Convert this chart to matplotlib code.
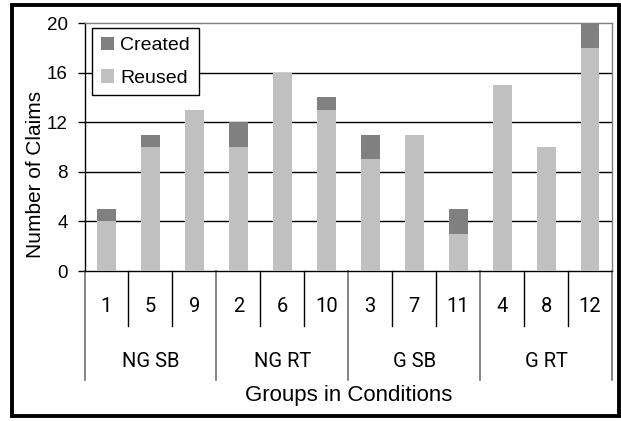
import matplotlib
matplotlib.use("Agg")
import matplotlib.pyplot as plt
from matplotlib.patches import Rectangle
from matplotlib.lines import Line2D
import numpy as np

# группы по условиям и номера групп
groups = ["1", "5", "9", "2", "6", "10", "3", "7", "11", "4", "8", "12"]
conditions = ["NG SB", "NG RT", "G SB", "G RT"]
reused = [4, 10, 13, 10, 16, 13, 9, 11, 3, 15, 10, 18]
created = [1, 1, 0, 2, 0, 1, 2, 0, 2, 0, 0, 2]

plt.rcParams["font.family"] = ["Liberation Sans", "DejaVu Sans"]
narrow = ["Roboto", "DejaVu Sans"]

fig = plt.figure(figsize=(6.21, 4.21), dpi=100)
ax = fig.add_axes([84.5 / 621, 150 / 421, 527.5 / 621, 248 / 421])

x = np.arange(len(groups))
ax.bar(x, reused, width=0.43, color="#c0c0c0", label="Reused", zorder=3)
ax.bar(x, created, width=0.43, bottom=reused, color="#808080", label="Created", zorder=3)

ax.set_xlim(-0.5, len(groups) - 0.5)
ax.set_ylim(0, 20)
ax.set_yticks([0, 4, 8, 12, 16, 20])
ax.tick_params(axis="y", labelsize=13.5, length=5, pad=7.2, width=1)
ax.set_xticks([])
for v in [4, 8, 12, 16]:
    ax.axhline(v, color="black", lw=1, zorder=1)

ax.spines["left"].set_color("black")
ax.spines["bottom"].set_color("black")
ax.spines["top"].set_color("#808080")
ax.spines["right"].set_color("#808080")
for s in ax.spines.values():
    s.set_linewidth(1)

ax.set_ylabel("Number of Claims", fontsize=15)
ax.yaxis.label.set_va("center")
ax.yaxis.set_label_coords(-0.092, 0.389)

# подписи категорий под осью
trans = ax.get_xaxis_transform()
for i, g in enumerate(groups):
    ax.text(i, -0.143, g, transform=trans, ha="center", va="center",
            fontsize=14.5, family=narrow)
for i in range(len(groups) + 1):
    if i % 3 == 0:
        ax.add_line(Line2D([i - 0.5, i - 0.5], [0, -0.44], transform=trans,
                           color="#707070", lw=1.2, clip_on=False))
    else:
        ax.add_line(Line2D([i - 0.5, i - 0.5], [0, -0.222], transform=trans,
                           color="black", lw=1, clip_on=False))
for k, c in enumerate(conditions):
    ax.text(3 * k + 1, -0.365, c, transform=trans, ha="center", va="center",
            fontsize=14.5, family=narrow)

fig.text((84.5 + 612) / 2 / 621, 25 / 421, "Groups in Conditions",
         ha="center", va="center", fontsize=16)

h, l = ax.get_legend_handles_labels()
ax.legend(h[::-1], l[::-1], loc="upper left", bbox_to_anchor=(0.014, 0.98),
          borderaxespad=0, fontsize=14, frameon=True, fancybox=False,
          edgecolor="black", framealpha=1, handlelength=0.7, handleheight=0.7,
          handletextpad=0.3, labelspacing=0.75, borderpad=0.45)
ax.get_legend().get_frame().set_linewidth(1)

# рамка вокруг всей диаграммы
fig.patches.append(Rectangle((11.5 / 621, 5 / 421), 607 / 621, 411 / 421,
                             transform=fig.transFigure, fill=False,
                             edgecolor="black", lw=2.8))

fig.savefig("out.png", dpi=100)
